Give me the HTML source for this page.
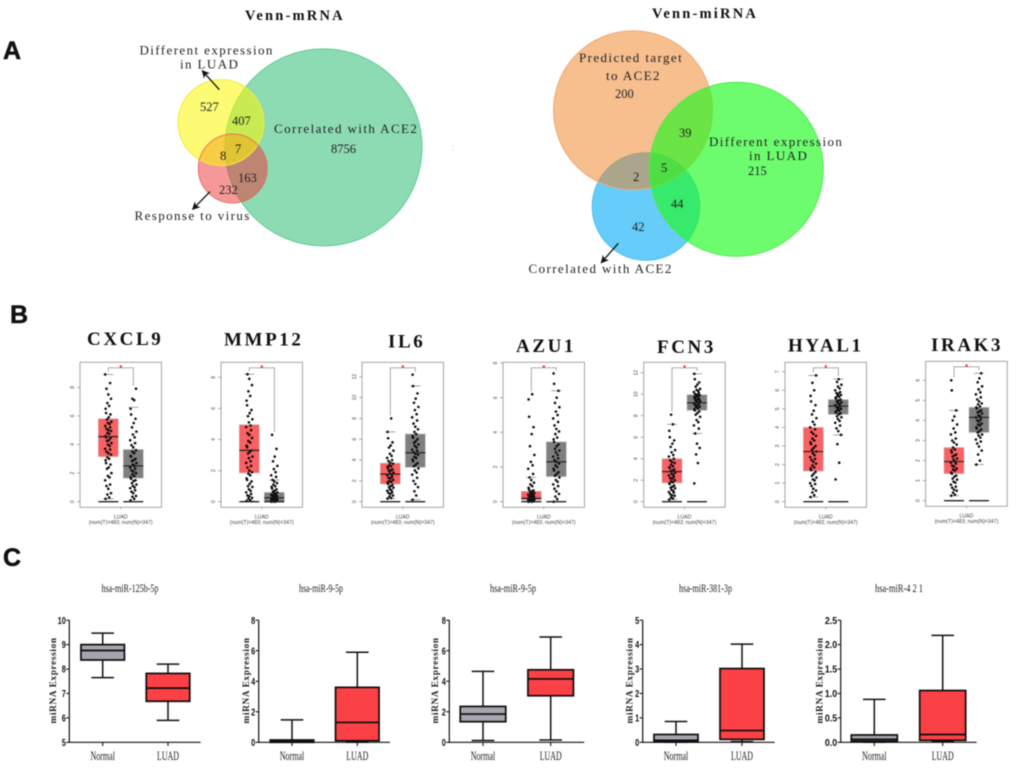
<!DOCTYPE html>
<html lang="en">
<head>
<meta charset="utf-8">
<title>Venn diagrams and expression box plots</title>
<style>
html,body{margin:0;padding:0;background:#fff;}
#figure{display:block;width:1020px;height:781px;filter:blur(.4px);}
.sf{font-family:"Liberation Serif",serif;fill:#222;}
.lab{font-size:13px;letter-spacing:1.4px;}
.num{font-size:12.5px;}
.vt{font-size:14.5px;font-weight:bold;letter-spacing:2.2px;fill:#111;}
.gt{font-size:19px;font-weight:bold;letter-spacing:2.6px;fill:#111;}
.pl{font-family:"Liberation Sans",sans-serif;font-weight:bold;font-size:25px;fill:#111;stroke:#111;stroke-width:.5px;}
</style>
</head>
<body>
<svg id="figure" xmlns="http://www.w3.org/2000/svg" width="1020" height="781" viewBox="0 0 1020 781">
<rect width="1020" height="781" fill="#fff"/>
<defs>
<marker id="ah" markerWidth="9" markerHeight="8" refX="7" refY="4" orient="auto" markerUnits="userSpaceOnUse"><path d="M0 0L8 4L0 8L2 4Z" fill="#111"/></marker>
</defs>
<text class="pl" x="3" y="59">A</text>
<text class="pl" x="10" y="323">B</text>
<text class="pl" x="3" y="566">C</text>

<g>
<text class="sf vt" x="245" y="20">Venn-mRNA</text>
<circle cx="323.5" cy="147.4" r="98.5" fill="#8ddbb3" stroke="#5ecb98" stroke-width="1"/>
<circle cx="232.7" cy="168.5" r="34.5" fill="rgb(240,50,50)" fill-opacity=".5"/>
<circle cx="221" cy="122.5" r="43" fill="rgb(250,248,0)" fill-opacity=".55" stroke="#eeea4a" stroke-width="1"/>
<circle cx="232.7" cy="168.5" r="34.5" fill="none" stroke="#e8605a" stroke-width="1" stroke-opacity=".8"/>
<text class="sf lab" x="139.5" y="54.5">Different expression</text>
<text class="sf lab" x="180" y="68.7">in LUAD</text>
<text class="sf lab" x="274" y="133">Correlated with ACE2</text>
<text class="sf lab" x="134.5" y="220">Response to virus</text>
<text class="sf num" x="200" y="111">527</text>
<text class="sf num" x="232" y="125">407</text>
<text class="sf num" x="331" y="153">8756</text>
<text class="sf num" x="235" y="153">7</text>
<text class="sf num" x="220" y="160">8</text>
<text class="sf num" x="238" y="182">163</text>
<text class="sf num" x="219" y="194">232</text>
<line x1="219.3" y1="89.7" x2="202.3" y2="70.7" stroke="#111" stroke-width="1.3" marker-end="url(#ah)"/>
<line x1="210" y1="191.7" x2="192.7" y2="209.3" stroke="#111" stroke-width="1.3" marker-end="url(#ah)"/>
<text x="452" y="150" font-size="7" fill="#999" font-family="Liberation Sans, sans-serif">:</text>
</g>

<g>
<text class="sf vt" x="652" y="18">Venn-miRNA</text>
<circle cx="646" cy="206.5" r="53.8" fill="rgb(0,170,245)" fill-opacity=".6" stroke="#4fc0ee" stroke-width="1"/>
<circle cx="633" cy="110.3" r="79.5" fill="rgb(240,125,30)" fill-opacity=".5" stroke="#f0ab78" stroke-width="1"/>
<circle cx="736.3" cy="169.3" r="87" fill="rgb(30,250,30)" fill-opacity=".65" stroke="#4cec4c" stroke-width="1"/>
<text class="sf lab" x="579" y="62">Predicted target</text>
<text class="sf lab" x="606" y="80">to ACE2</text>
<text class="sf lab" x="709" y="146">Different expression</text>
<text class="sf lab" x="749" y="160">in LUAD</text>
<text class="sf lab" x="528.5" y="273">Correlated with ACE2</text>
<text class="sf num" x="615" y="98">200</text>
<text class="sf num" x="679" y="137">39</text>
<text class="sf num" x="748" y="175">215</text>
<text class="sf num" x="661" y="172">5</text>
<text class="sf num" x="633" y="181">2</text>
<text class="sf num" x="671" y="208">44</text>
<text class="sf num" x="632" y="231">42</text>
<line x1="618.3" y1="243.3" x2="601.3" y2="262.7" stroke="#111" stroke-width="1.3" marker-end="url(#ah)"/>
</g>

<g id="panel-b"></g>
<g id="panel-c"></g>
</svg>

<script>
/* ---------- Panel B data ---------- */
const geneNames = ['CXCL9','MMP12','IL6','AZU1','FCN3','HYAL1','IRAK3'];
const geneTicks = [[0,2,4,6,8],[0,2,4,6,8],[0,2,4,6,8,10,12],[0,2,4,6,8],[0,2,4,6,8,10,12],[0,1,2,3,4,5,6,7],[0,1,2,3,4,5,6]];
/* [whisker low, q1, median, q3, whisker high] */
const tumorStats = [[0.2,3.15,4.55,5.8,8.9],[0.05,1.85,3.3,4.95,8.2],[0.3,1.7,2.65,3.7,6.7],[0,0.1,0.2,0.6,1.4],[0.2,1.75,2.8,4,7.2],[0.25,1.65,2.7,4,6.8],[0.25,1.35,1.95,2.65,4.5]];
const normalStats = [[0,1.65,2.5,3.65,6.6],[0,0.02,0.25,0.6,1.4],[0.2,3.3,4.7,6.5,11.1],[0,1.45,2.3,3.45,6.4],[6.35,8.5,9.2,9.95,11.9],[3.6,4.7,5.15,5.5,6.6],[1.8,3.4,4.15,4.65,6.35]];
const tumorPoints = [
[0.2,0.3,0.5,0.6,0.9,1.1,1.2,1.5,1.7,1.8,2.0,2.3,2.4,2.6,2.7,2.9,3.0,3.1,3.3,3.4,3.5,3.65,3.7,3.9,4.0,4.1,4.25,4.3,4.45,4.5,4.6,4.75,4.8,4.95,5.0,5.1,5.2,5.3,5.45,5.5,5.6,5.75,5.9,6.1,6.2,6.5,6.7,6.9,7.2,7.5,7.9,8.3,8.9],
[0.05,0.1,0.2,0.25,0.35,0.4,0.5,0.6,0.7,0.8,0.95,1.0,1.15,1.3,1.4,1.5,1.7,1.8,1.9,2.0,2.2,2.3,2.5,2.6,2.8,2.9,3.1,3.2,3.3,3.5,3.6,3.8,3.9,4.1,4.3,4.4,4.6,4.8,4.9,5.1,5.3,5.5,5.7,5.9,6.2,6.5,6.8,7.1,7.5,7.9,8.2],
[0.3,0.35,0.5,0.6,0.75,0.85,0.9,1.05,1.1,1.2,1.35,1.4,1.5,1.6,1.7,1.85,1.9,2.0,2.1,2.25,2.3,2.4,2.55,2.6,2.7,2.8,2.95,3.0,3.1,3.2,3.35,3.4,3.5,3.65,3.75,3.9,4.0,4.2,4.4,4.6,4.9,5.2,5.4,5.7,6.1,6.7,8.0],
[0,0,0.02,0.03,0.05,0.05,0.08,0.1,0.1,0.12,0.14,0.15,0.18,0.2,0.2,0.22,0.25,0.28,0.3,0.32,0.35,0.38,0.4,0.45,0.48,0.5,0.55,0.6,0.65,0.7,0.8,0.9,1.0,1.1,1.25,1.4,1.6,1.9,2.1,2.3,2.7,3.2,3.9,4.3,4.9,5.9,6.2],
[0.2,0.3,0.4,0.55,0.6,0.7,0.85,0.9,1.0,1.1,1.25,1.3,1.4,1.5,1.65,1.7,1.8,1.9,2.0,2.15,2.2,2.3,2.45,2.5,2.6,2.7,2.85,2.9,3.0,3.15,3.2,3.3,3.45,3.6,3.7,3.85,4.0,4.2,4.35,4.6,4.8,5.1,5.4,5.7,6.0,6.6,7.2,8.1],
[0.25,0.35,0.5,0.6,0.7,0.85,0.95,1.0,1.15,1.2,1.3,1.4,1.5,1.6,1.7,1.8,1.85,1.95,2.05,2.15,2.25,2.3,2.4,2.5,2.6,2.7,2.8,2.9,3.0,3.1,3.2,3.3,3.4,3.55,3.65,3.75,3.9,4.0,4.15,4.3,4.5,4.7,4.9,5.2,5.4,5.7,6.0,6.4,6.8],
[0.25,0.3,0.4,0.5,0.55,0.65,0.7,0.8,0.9,0.95,1.05,1.1,1.2,1.25,1.35,1.4,1.5,1.55,1.6,1.7,1.75,1.85,1.9,1.95,2.05,2.1,2.2,2.25,2.3,2.4,2.5,2.55,2.65,2.8,2.9,3.0,3.1,3.3,3.4,3.6,3.8,4.0,4.2,4.5,5.5,6.0]
];
const normalPoints = [
[0.1,0.2,0.35,0.4,0.6,0.7,0.8,0.95,1.0,1.1,1.2,1.3,1.45,1.5,1.6,1.7,1.8,1.9,2.0,2.1,2.2,2.3,2.4,2.5,2.6,2.7,2.85,2.9,3.0,3.15,3.2,3.4,3.5,3.6,3.8,3.95,4.1,4.3,4.5,4.7,4.9,5.2,5.5,5.8,6.1,6.5,7.1,7.2,7.9],
[0,0,0.02,0.04,0.05,0.06,0.08,0.1,0.1,0.12,0.15,0.16,0.18,0.2,0.22,0.25,0.27,0.3,0.33,0.35,0.4,0.42,0.45,0.5,0.55,0.6,0.65,0.7,0.8,0.85,0.95,1.0,1.1,1.2,1.3,1.4,1.6,1.7,1.9,2.1,2.3,2.6,2.9,3.4,4.3],
[0.2,0.6,1.0,1.4,1.7,2.0,2.3,2.6,2.8,3.0,3.2,3.4,3.55,3.7,3.9,4.05,4.2,4.3,4.5,4.6,4.75,4.9,5.0,5.2,5.35,5.5,5.65,5.8,6.0,6.15,6.3,6.5,6.7,6.95,7.2,7.5,7.8,8.1,8.4,8.8,9.1,9.5,9.9,10.4,11.1,12.2],
[0,0.15,0.3,0.45,0.6,0.75,0.9,1.0,1.15,1.25,1.4,1.5,1.6,1.7,1.8,1.9,2.0,2.1,2.2,2.3,2.4,2.5,2.6,2.7,2.85,2.95,3.05,3.2,3.3,3.45,3.6,3.7,3.9,4.05,4.2,4.4,4.6,4.8,5.0,5.2,5.45,5.7,6.0,6.4,6.8,7.4],
[1.7,3.6,4.4,5.0,5.4,6.35,6.8,7.1,7.4,7.6,7.9,8.1,8.25,8.4,8.5,8.6,8.7,8.8,8.85,8.95,9.0,9.1,9.15,9.2,9.3,9.35,9.4,9.5,9.55,9.6,9.7,9.75,9.8,9.9,9.95,10.0,10.1,10.2,10.3,10.4,10.5,10.7,10.9,11.1,11.4,11.9],
[1.2,2.1,3.1,3.6,3.8,3.95,4.1,4.25,4.35,4.45,4.55,4.6,4.7,4.75,4.8,4.85,4.9,4.95,5.0,5.05,5.1,5.15,5.2,5.25,5.3,5.35,5.4,5.45,5.5,5.55,5.6,5.65,5.7,5.75,5.8,5.85,5.9,6.0,6.1,6.2,6.3,6.45,6.6],
[1.8,2.0,2.3,2.5,2.7,2.85,2.95,3.05,3.15,3.25,3.3,3.4,3.45,3.55,3.6,3.65,3.75,3.8,3.85,3.95,4.0,4.05,4.15,4.2,4.25,4.35,4.4,4.45,4.5,4.6,4.65,4.7,4.8,4.85,4.95,5.05,5.15,5.3,5.4,5.55,5.7,5.9,6.1,6.35]
];
/* ---------- Panel C data ---------- */
const mirnaNames = ['hsa-miR-125b-5p','hsa-miR-9-5p','hsa-miR-9-5p','hsa-miR-381-3p','hsa-miR-4 2 1'];
const mirnaGroups = ['Normal','LUAD'];
const mirnaTicks = [[5,6,7,8,9,10],[0,2,4,6,8],[0,2,4,6,8],[0,1,2,3,4,5],[0,0.5,1,1.5,2,2.5]];
const mirnaTickLabels = [['5','6','7','8','9','10'],['0','2','4','6','8'],['0','2','4','6','8'],['0','1','2','3','4','5'],['0.0','0.5','1.0','1.5','2.0','2.5']];
const mirnaNormal = [[7.65,8.37,8.76,9,9.47],[0,0,0.05,0.15,1.47],[0.12,1.35,1.85,2.35,4.65],[0,0.02,0.08,0.32,0.85],[0,0.02,0.06,0.15,0.88]];
const mirnaLuad = [[5.9,6.68,7.22,7.82,8.2],[0,0.1,1.3,3.6,5.9],[0.15,3.05,4.15,4.75,6.9],[0.03,0.12,0.48,3.02,4.02],[0.02,0.04,0.16,1.06,2.19]];

/* ---------- Layout (not data) ---------- */
const geneLayout = [
{left:80,top:362.3,zero:501.7,topY:387.3,title:87,base:345},
{left:221,top:362.3,zero:501.7,topY:377.3,title:224,base:345.5},
{left:362,top:362.3,zero:501.7,topY:376.7,title:388,base:347.7},
{left:503,top:362.3,zero:501.7,topY:363,title:516,base:352},
{left:643.7,top:362.3,zero:501.7,topY:372.7,title:657,base:353},
{left:785,top:362.3,zero:501.7,topY:371.7,title:788,base:351.7},
{left:925.7,top:361.3,zero:500.7,topY:380.3,title:931,base:351}
];
const mirnaLayout = [
{axis:69.3,right:200.7,c0:102.7,c1:168,bw:43.5,titleX:130,tw:57,yt:56},
{axis:258.7,right:390,c0:292,c1:357.3,bw:43.5,titleX:321,tw:44,yt:249},
{axis:449.3,right:584.3,c0:483,c1:550.7,bw:45.5,titleX:513,tw:46,yt:438},
{axis:642.7,right:774.7,c0:676,c1:742,bw:44,titleX:705.5,tw:53,yt:632.7},
{axis:840.7,right:976.7,c0:874.3,c1:942.7,bw:46,titleX:899,tw:48,yt:822.7}
];
const jitter = [-2.7,0.9,-0.9,2.7,0,-1.8,1.8,-3.1,1.3,-0.4,3.1,-1.3,0.4,2.2,-2.2];
const NS = 'http://www.w3.org/2000/svg';

function svgEl(parent, tag, attrs, text) {
  const el = document.createElementNS(NS, tag);
  for (const k in attrs) el.setAttribute(k, attrs[k]);
  if (text !== undefined) el.textContent = text;
  parent.appendChild(el);
  return el;
}
function linearScale(d0, d1, r0, r1) {
  return v => r0 + (v - d0) * (r1 - r0) / (d1 - d0);
}

/* ---------- Panel B ---------- */
const panelB = document.getElementById('panel-b');
geneNames.forEach((name, p) => {
  const L = geneLayout[p];
  const ticks = geneTicks[p];
  const y = linearScale(0, ticks[ticks.length - 1], L.zero, L.topY);
  const cT = L.left + 28.3, cN = L.left + 53.3, half = 10, W = 81.5, H = 145;
  const g = svgEl(panelB, 'g', {});
  
  

  const title = svgEl(g, 'text', {class:'sf gt', x:L.title, y:L.base}, name);
  
  

  const frame = svgEl(g, 'rect', {x:L.left, y:L.top, width:W, height:H, fill:'#fff', stroke:'#a4a4a4', 'stroke-width':1});
  
  

  ticks.forEach(t => {
    const tk = svgEl(g, 'line', {x1:L.left-3, x2:L.left, y1:y(t), y2:y(t), stroke:'#777', 'stroke-width':.6});
    
    
    const lb = svgEl(g, 'text', {x:0, y:0, transform:'translate(' + (L.left-6) + ' ' + y(t) + ') rotate(-90)', 'text-anchor':'middle', 'font-size':5, fill:'#444', 'font-family':'Liberation Sans, sans-serif'}, String(t));
    
    
  });

  const series = [
    {c:cT, s:tumorStats[p], pts:tumorPoints[p], fill:'#fb6063', key:'tumor'},
    {c:cN, s:normalStats[p], pts:normalPoints[p], fill:'#7f7f7f', key:'normal'}
  ];
  series.forEach(S => {
    const box = svgEl(g, 'rect', {x:S.c-half, y:y(S.s[3]), width:half*2, height:y(S.s[1])-y(S.s[3]), fill:S.fill, stroke:'#bdbdbd', 'stroke-width':.6});
    
    
    [S.s[0], S.s[4]].forEach(w => {
      const cap = svgEl(g, 'line', {x1:S.c-5, x2:S.c+5, y1:y(w), y2:y(w), stroke:'#8c8c8c', 'stroke-width':.8});
      
      
    });
    S.pts.forEach((v, i) => {
      const dot = svgEl(g, 'circle', {cx:S.c + jitter[i % jitter.length], cy:y(v), r:1.3, fill:'#0c0c0c'});
      
      
    });
    const med = svgEl(g, 'line', {x1:S.c-half, x2:S.c+half, y1:y(S.s[2]), y2:y(S.s[2]), stroke:'#222', 'stroke-width':1.2});
    
    
    const base = svgEl(g, 'line', {x1:S.c-half, x2:S.c+half, y1:y(0), y2:y(0), stroke:'#222', 'stroke-width':1.3});
    
    
  });

  const bTop = L.top + 5.5;
  const maxT = Math.max(...tumorPoints[p]);
  const maxN = Math.max(...normalPoints[p]);
  const bracket = svgEl(g, 'path', {d:'M' + cT + ' ' + (y(maxT)-3) + 'V' + bTop + 'H' + cN + 'V' + (y(maxN)-3), fill:'none', stroke:'#a0a0a0', 'stroke-width':.9});
  
  
  const star = svgEl(g, 'text', {x:(cT+cN)/2, y:bTop+3, 'text-anchor':'middle', 'font-size':8, 'font-weight':'bold', fill:'#f01c1c', 'font-family':'Liberation Sans, sans-serif'}, '*');
  
  

  const xt = svgEl(g, 'line', {x1:L.left+W/2, x2:L.left+W/2, y1:L.top+H, y2:L.top+H+2, stroke:'#777', 'stroke-width':.6});
  
  
  const xl = svgEl(g, 'text', {x:L.left+W/2, y:L.top+H+11, 'text-anchor':'middle', 'font-size':5.2, fill:'#444', 'font-family':'Liberation Sans, sans-serif'}, 'LUAD');
  
  
  const nl = svgEl(g, 'text', {x:L.left+W/2, y:L.top+H+16.5, 'text-anchor':'middle', 'font-size':5.2, fill:'#444', 'font-family':'Liberation Sans, sans-serif'}, '(num(T)=483; num(N)=347)');
  
  
});

/* ---------- Panel C ---------- */
const panelC = document.getElementById('panel-c');
mirnaNames.forEach((name, p) => {
  const L = mirnaLayout[p];
  const ticks = mirnaTicks[p];
  const y = linearScale(ticks[0], ticks[ticks.length - 1], 742.3, 620.2);
  const g = svgEl(panelC, 'g', {});
  
  

  const title = svgEl(g, 'text', {class:'sf', x:L.titleX, y:592, 'text-anchor':'middle', 'font-size':11.5, textLength:L.tw, lengthAdjust:'spacingAndGlyphs'}, name);
  
  

  const yTitle = svgEl(g, 'text', {class:'sf', x:0, y:0, transform:'translate(' + L.yt + ' 680.7) rotate(-90)', 'text-anchor':'middle', 'font-size':9.3, 'font-weight':'bold', fill:'#111', textLength:85.6, lengthAdjust:'spacing'}, 'miRNA Expression');
  
  

  ticks.forEach((t, i) => {
    const tk = svgEl(g, 'line', {x1:L.axis-3, x2:L.axis, y1:y(t), y2:y(t), stroke:'#111', 'stroke-width':1.1});
    
    
    const s = mirnaTickLabels[p][i];
    const lb = svgEl(g, 'text', {x:L.axis-3.5, y:y(t)+3.6, 'text-anchor':'end', 'font-size':10.5, 'font-weight':'bold', fill:'#111', 'font-family':'Liberation Sans, sans-serif', textLength:s.length*4.1, lengthAdjust:'spacingAndGlyphs'}, s);
    
    
  });

  const groups = [
    {c:L.c0, s:mirnaNormal[p], fill:'#a5a5ad', label:mirnaGroups[0], tw:24.5},
    {c:L.c1, s:mirnaLuad[p], fill:'#fb4145', label:mirnaGroups[1], tw:22}
  ];
  groups.forEach(G => {
    const wh = svgEl(g, 'line', {x1:G.c, x2:G.c, y1:y(G.s[0]), y2:y(G.s[4]), stroke:'#111', 'stroke-width':1.5});
    
    
    [G.s[0], G.s[4]].forEach(w => {
      const cap = svgEl(g, 'line', {x1:G.c-11.3, x2:G.c+11.3, y1:y(w), y2:y(w), stroke:'#111', 'stroke-width':1.5});
      
      
    });
    const box = svgEl(g, 'rect', {x:G.c-L.bw/2, y:y(G.s[3]), width:L.bw, height:y(G.s[1])-y(G.s[3]), fill:G.fill, stroke:'#0c0c0c', 'stroke-width':1.7});
    
    
    const med = svgEl(g, 'line', {x1:G.c-L.bw/2, x2:G.c+L.bw/2, y1:y(G.s[2]), y2:y(G.s[2]), stroke:'#0c0c0c', 'stroke-width':1.7});
    
    
    const xt = svgEl(g, 'line', {x1:G.c, x2:G.c, y1:742.3, y2:746, stroke:'#111', 'stroke-width':1.1});
    
    
    const xl = svgEl(g, 'text', {class:'sf', x:G.c, y:760, 'text-anchor':'middle', 'font-size':13, textLength:G.tw, lengthAdjust:'spacingAndGlyphs'}, G.label);
    
    
  });

  const ya = svgEl(g, 'line', {x1:L.axis, x2:L.axis, y1:620.2, y2:742.9, stroke:'#111', 'stroke-width':1.2});
  
  
  const xa = svgEl(g, 'line', {x1:L.axis, x2:L.right, y1:742.3, y2:742.3, stroke:'#111', 'stroke-width':1.2});
  
  
});
</script>
</body>
</html>
